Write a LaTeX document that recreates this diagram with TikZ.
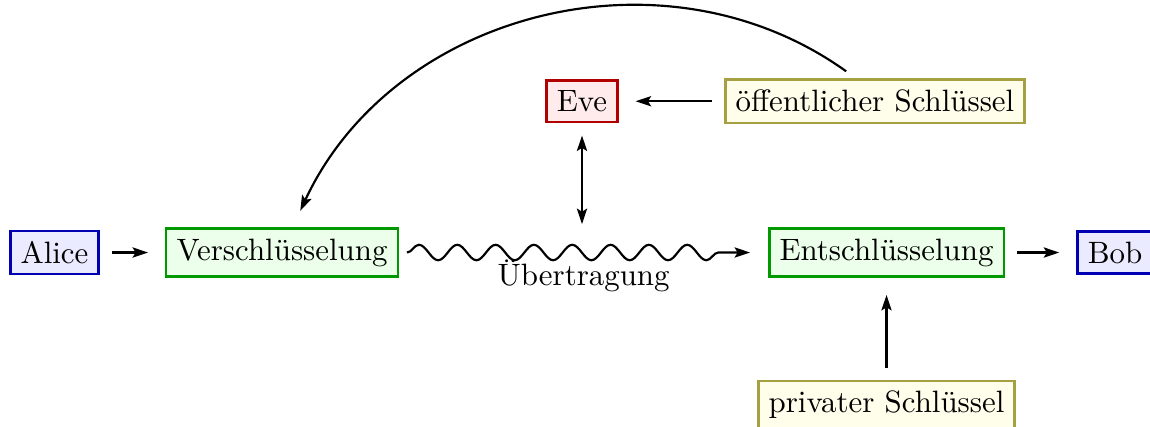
\documentclass[tikz,border=0pt]{standalone}
\usetikzlibrary{arrows.meta,decorations.pathmorphing,calc}
\begin{document}
\begin{tikzpicture}[x=0.3236pt,y=0.3236pt,
  box/.style={draw, line width=0.8pt},
  person/.style={box, draw=blue!70!black, fill=blue!8},
  crypt/.style={box, draw=green!60!black, fill=green!8},
  spy/.style={box, draw=red!70!black, fill=red!8},
  keybox/.style={box, draw=yellow!60!black, fill=yellow!8},
  tip/.tip={Stealth[length=5pt,width=3.3pt,inset=1pt]},
  arr/.style={line width=0.7pt, -tip},
  darr/.style={line width=0.7pt, tip-tip},
]
\useasboundingbox (0,0) rectangle (1150,-426);
\node[person] (alice)   at (54.5,-252.5) {Alice};
\node[crypt]  (verschl) at (282,-252.5) {Verschlüsselung};
\node[spy]    (eve)     at (582,-101.25) {Eve};
\node[keybox] (oeff)    at (875,-101.25) {öffentlicher Schlüssel};
\node[crypt]  (entschl) at (886.5,-252.5) {Entschlüsselung};
\node[person] (bob)     at (1115,-252.5) {Bob};
\node[keybox] (privat)  at (886.5,-405) {privater Schlüssel};
\coordinate (tap) at (eve |- verschl);

\draw[arr, shorten <=3.9pt, shorten >=5.5pt] (alice) -- (verschl);
\draw[arr, shorten <=3.9pt, shorten >=5.5pt] (entschl) -- (bob);
\draw[arr, shorten <=3.9pt, shorten >=5.5pt] (oeff) -- (eve);
\draw[arr, shorten <=3.9pt, shorten >=5.5pt] (privat) -- (entschl);
\draw[darr, shorten <=3.9pt, shorten >=9.2pt] (eve) -- (tap);
\draw[arr, decorate, decoration={snake, segment length=12.4pt, amplitude=2.5pt, post length=5pt}]
  ($(verschl.east)+(8,0)$) -- ($(entschl.west)+(-18,0)$)
  node[below, pos=0.515, yshift=1.2pt] {Übertragung};
\draw[arr, shorten <=4pt, shorten >=5.8pt]
  ($(oeff.north)+(-18.8,0)$) .. controls +(144.4:236.9) and +(65.05:236.9) .. ($(verschl.north)+(10.7,0)$);
\end{tikzpicture}
\end{document}
